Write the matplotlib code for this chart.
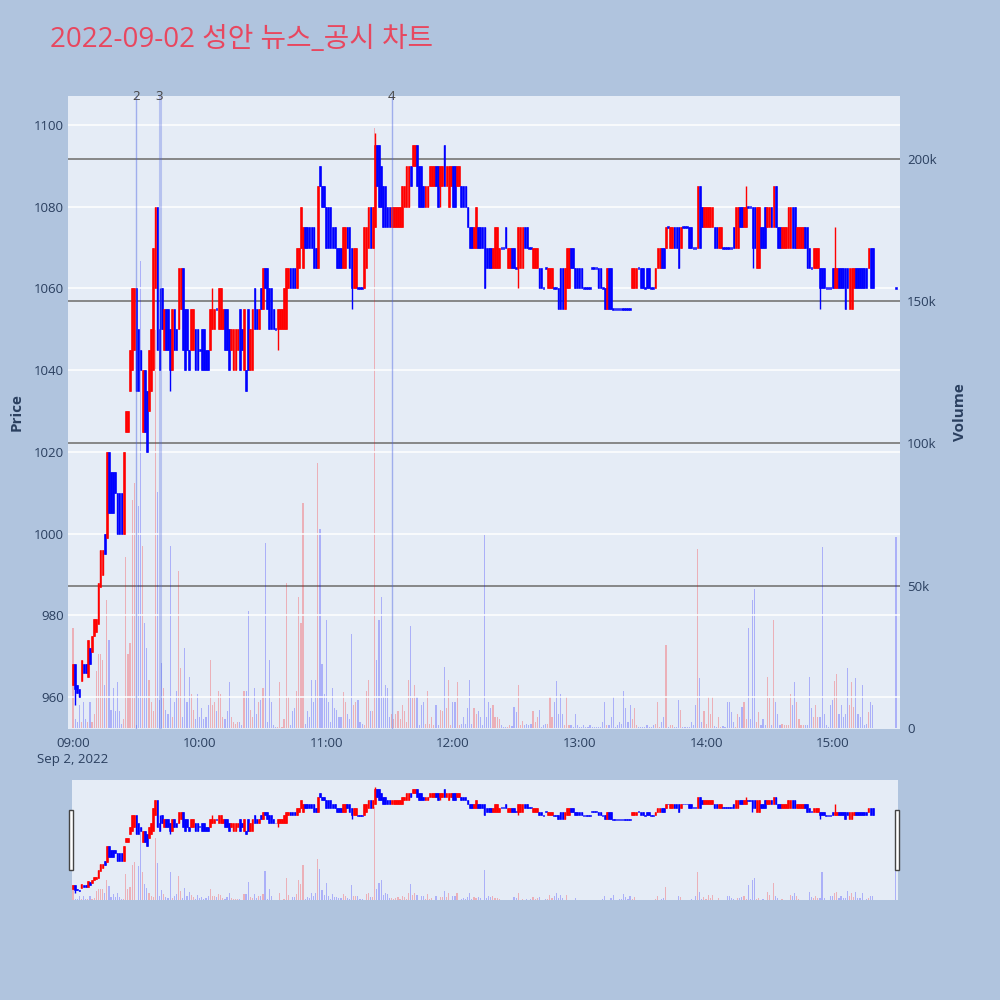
import numpy as np
import matplotlib.pyplot as plt
from matplotlib.patches import Rectangle
from matplotlib.ticker import FuncFormatter

plt.rcParams['font.family'] = ['Open Sans', 'Noto Sans CJK KR', 'DejaVu Sans']

title = '2022-09-02 성안 뉴스_공시 차트'

# minutes after 09:00 (the last one is the 15:30 closing auction)
minutes = list(range(380)) + [390]

opens = [
    963, 968, 963, 962, 964, 968, 968, 965, 972, 971,
    975, 976, 978, 987, 990, 1000, 999, 1020, 1015, 1015,
    1015, 1010, 1010, 1010, 1000, 1025, 1025, 1035, 1040, 1045,
    1060, 1050, 1045, 1025, 1040, 1035, 1030, 1035, 1040, 1060,
    1080, 1050, 1060, 1045, 1055, 1055, 1050, 1040, 1055, 1050,
    1050, 1055, 1065, 1055, 1055, 1045, 1045, 1045, 1050, 1050,
    1045, 1050, 1050, 1045, 1045, 1045, 1050, 1050, 1055, 1050,
    1050, 1050, 1055, 1055, 1050, 1045, 1040, 1040, 1045, 1055,
    1050, 1040, 1040, 1055, 1040, 1040, 1060, 1055, 1050, 1060,
    1055, 1065, 1065, 1060, 1060, 1055, 1050, 1050, 1050, 1050,
    1050, 1050, 1060, 1065, 1065, 1065, 1060, 1065, 1070, 1065,
    1075, 1075, 1075, 1075, 1075, 1070, 1065, 1090, 1085, 1085,
    1080, 1080, 1080, 1075, 1075, 1070, 1070, 1070, 1065, 1065,
    1075, 1075, 1070, 1060, 1060, 1060, 1060, 1060, 1060, 1065,
    1070, 1080, 1070, 1075, 1095, 1095, 1090, 1085, 1085, 1080,
    1080, 1075, 1075, 1075, 1075, 1075, 1075, 1080, 1080, 1080,
    1090, 1090, 1090, 1095, 1090, 1090, 1085, 1080, 1080, 1085,
    1085, 1085, 1090, 1090, 1085, 1085, 1095, 1085, 1080, 1085,
    1090, 1090, 1085, 1085, 1085, 1085, 1085, 1080, 1075, 1075,
    1070, 1070, 1075, 1075, 1075, 1075, 1070, 1070, 1070, 1065,
    1065, 1065, 1065, 1070, 1070, 1075, 1065, 1065, 1070, 1070,
    1065, 1065, 1065, 1065, 1075, 1075, 1070, 1070, 1065, 1065,
    1065, 1065, 1065, 1060, 1065, 1060, 1060, 1060, 1060, 1060,
    1060, 1065, 1065, 1055, 1060, 1060, 1070, 1070, 1065, 1065,
    1065, 1065, 1060, 1060, 1060, 1060, 1065, 1065, 1065, 1065,
    1065, 1060, 1060, 1055, 1065, 1065, 1055, 1055, 1055, 1055,
    1055, 1055, 1055, 1055, 1055, 1060, 1060, 1060, 1065, 1065,
    1065, 1060, 1065, 1065, 1060, 1060, 1060, 1065, 1065, 1070,
    1070, 1070, 1075, 1070, 1070, 1075, 1075, 1075, 1070, 1075,
    1075, 1075, 1075, 1075, 1070, 1070, 1070, 1085, 1080, 1075,
    1075, 1075, 1075, 1075, 1075, 1075, 1070, 1070, 1070, 1070,
    1070, 1070, 1070, 1075, 1070, 1070, 1080, 1080, 1075, 1075,
    1080, 1080, 1080, 1080, 1065, 1065, 1075, 1075, 1080, 1075,
    1075, 1080, 1075, 1085, 1075, 1075, 1070, 1070, 1070, 1070,
    1070, 1080, 1080, 1070, 1070, 1070, 1070, 1075, 1075, 1070,
    1065, 1065, 1065, 1065, 1065, 1065, 1065, 1060, 1060, 1060,
    1065, 1060, 1060, 1065, 1065, 1065, 1065, 1065, 1055, 1055,
    1060, 1065, 1065, 1065, 1065, 1065, 1065, 1065, 1070, 1070,
    1060,
]

closes = [
    968, 962, 961, 960, 969, 966, 966, 974, 968, 975,
    979, 979, 988, 996, 996, 995, 1020, 1005, 1005, 1005,
    1010, 1000, 1000, 1000, 1020, 1030, 1030, 1045, 1060, 1060,
    1035, 1035, 1040, 1040, 1025, 1020, 1045, 1050, 1070, 1080,
    1045, 1040, 1050, 1055, 1045, 1045, 1040, 1055, 1045, 1045,
    1065, 1065, 1045, 1040, 1045, 1040, 1055, 1055, 1040, 1040,
    1045, 1040, 1040, 1040, 1040, 1055, 1055, 1055, 1055, 1060,
    1060, 1055, 1045, 1045, 1040, 1050, 1050, 1050, 1050, 1040,
    1045, 1055, 1035, 1040, 1050, 1055, 1050, 1050, 1055, 1055,
    1065, 1060, 1055, 1050, 1050, 1050, 1050, 1055, 1055, 1055,
    1060, 1065, 1065, 1060, 1060, 1060, 1070, 1070, 1080, 1075,
    1070, 1070, 1070, 1070, 1065, 1065, 1085, 1085, 1080, 1080,
    1070, 1070, 1070, 1070, 1070, 1065, 1065, 1065, 1075, 1075,
    1070, 1065, 1060, 1070, 1070, 1060, 1060, 1060, 1075, 1075,
    1080, 1070, 1080, 1095, 1085, 1080, 1080, 1075, 1075, 1075,
    1075, 1080, 1080, 1080, 1080, 1080, 1085, 1085, 1090, 1090,
    1085, 1095, 1095, 1085, 1080, 1080, 1080, 1085, 1085, 1090,
    1090, 1090, 1085, 1080, 1090, 1090, 1085, 1090, 1090, 1090,
    1080, 1080, 1090, 1090, 1080, 1080, 1080, 1075, 1070, 1070,
    1075, 1080, 1070, 1070, 1070, 1060, 1065, 1065, 1065, 1070,
    1075, 1075, 1070, 1070, 1070, 1070, 1070, 1070, 1065, 1065,
    1065, 1075, 1075, 1075, 1070, 1070, 1070, 1070, 1070, 1070,
    1070, 1060, 1060, 1060, 1065, 1065, 1065, 1065, 1060, 1060,
    1055, 1055, 1055, 1065, 1070, 1070, 1065, 1065, 1060, 1060,
    1060, 1060, 1060, 1060, 1060, 1060, 1065, 1065, 1065, 1060,
    1060, 1060, 1055, 1065, 1055, 1055, 1055, 1055, 1055, 1055,
    1055, 1055, 1055, 1055, 1055, 1065, 1065, 1065, 1065, 1060,
    1060, 1060, 1060, 1060, 1060, 1060, 1065, 1070, 1070, 1065,
    1065, 1075, 1075, 1075, 1075, 1070, 1070, 1065, 1075, 1075,
    1075, 1075, 1070, 1070, 1070, 1070, 1085, 1070, 1075, 1080,
    1080, 1080, 1080, 1080, 1070, 1070, 1075, 1075, 1070, 1070,
    1070, 1070, 1070, 1070, 1080, 1080, 1075, 1075, 1080, 1080,
    1080, 1080, 1070, 1070, 1080, 1080, 1070, 1070, 1070, 1080,
    1080, 1075, 1085, 1075, 1070, 1070, 1075, 1075, 1075, 1080,
    1080, 1070, 1070, 1075, 1075, 1075, 1075, 1070, 1065, 1065,
    1065, 1070, 1070, 1070, 1060, 1060, 1060, 1060, 1060, 1060,
    1060, 1065, 1065, 1060, 1060, 1060, 1055, 1060, 1065, 1065,
    1065, 1060, 1060, 1060, 1060, 1060, 1060, 1070, 1060, 1060,
    1060,
]

# shadows that reach beyond the candle body
wick_high = {41: 1060, 42: 1060, 66: 1060, 117: 1090, 143: 1098,
             319: 1085, 361: 1075}
wick_low = {1: 958, 35: 1020, 46: 1035, 82: 1035, 97: 1045, 132: 1055,
            174: 1080, 211: 1060, 322: 1065, 354: 1055}

# traded volume, thousands of shares
volumes_k = [
    35, 3, 2, 8, 2, 9, 3, 2, 9, 2,
    5, 20, 26, 26, 24, 15, 45, 31, 6.5, 14,
    6, 16, 6, 1.5, 3, 60, 26, 30, 80, 86,
    1, 78, 164, 64, 37, 28, 17, 9, 6, 140,
    83, 10, 23, 14, 6.5, 5, 64, 4, 9, 13,
    55, 21, 4, 28, 9, 18, 12, 6.5, 3, 12,
    4, 7, 3, 4, 8, 24, 8, 9, 6, 13,
    12, 4, 3, 6, 16, 4, 2, 1.5, 2, 2,
    1, 13, 13, 41, 6.5, 4, 14, 5, 9, 10,
    14, 65, 2, 24, 9, 1, 0.5, 0.5, 16, 0.5,
    3, 51, 11, 1, 6, 7, 13, 46, 37, 79,
    1.5, 6, 4, 17, 9, 17, 93, 70, 22.5, 12,
    38, 9, 2, 14, 7, 6.5, 4, 4, 12.5, 9,
    5, 3, 33, 8, 9, 10, 2, 1.5, 1, 13,
    17, 6, 6, 211, 24, 38, 46, 11, 15, 14,
    4, 5, 3, 5, 6, 3, 8, 6, 2, 17,
    36, 10.5, 15, 11, 1, 8, 9, 1.5, 13, 1.5,
    4, 1, 8, 1, 6.5, 6, 21.5, 7, 17, 1,
    9, 9, 16, 1, 1.5, 4, 1.5, 7, 17, 1.5,
    7, 5, 6, 4, 1, 68, 4, 9, 7, 8,
    4, 4, 3, 1, 0.5, 0.3, 0.5, 1, 0.8, 7.5,
    5.5, 15, 1, 2.5, 1, 1.5, 1, 1.5, 6, 2,
    4, 6.5, 0.5, 1, 1.5, 1.5, 11, 4, 9, 16.5,
    5, 12, 5, 1, 11, 1, 1, 0.5, 5, 1,
    0.5, 0.5, 1, 0.3, 0.3, 1, 0.5, 0.5, 0.3, 0.3,
    0.3, 2, 9, 1, 1, 4, 11, 0.3, 1, 2,
    1.5, 13, 7, 2, 8, 3, 7, 1, 0.5, 0.3,
    0.5, 0.3, 1, 0.3, 0.3, 1, 1.5, 9, 0.5, 2,
    4, 29, 0.3, 1, 1, 0.5, 0.3, 10, 6.5, 0.3,
    0.3, 0.5, 0.3, 2, 1, 8, 63, 17.6, 2, 6,
    1.5, 11, 5, 11, 0.8, 0.3, 4, 0.3, 0.8, 0.3,
    9, 9, 5.5, 2, 0.3, 5, 4, 7.5, 9, 3,
    35, 3, 45, 49, 2, 5.5, 1, 3, 1, 18,
    10.5, 1, 38, 9, 5, 1, 1.5, 1, 1, 1,
    12, 8, 16, 9, 3, 1, 1, 1, 1, 18,
    7, 4, 8, 4, 4, 63.5, 5, 1, 0.5, 8,
    10, 16.5, 19, 5, 8, 4, 5, 21, 8, 16,
    7.5, 17.5, 5, 4, 15, 1, 1.5, 5.5, 9, 8,
    67,
]

news_times = ['09:30', '09:41', '11:31']
news_labels = ['2', '3', '4']

tick_times = ['09:00', '10:00', '11:00', '12:00', '13:00', '14:00', '15:00']
date_label = 'Sep 2, 2022'

price_ticks = [960, 980, 1000, 1020, 1040, 1060, 1080, 1100]
volume_ticks = [0, 50000, 100000, 150000, 200000]

BG = '#B0C4DE'
PLOT_BG = '#E5ECF6'
TEXT = '#2a3f5f'


def to_min(t):
    h, m = t.split(':')
    return (int(h) - 9) * 60 + int(m)


x = np.array(minutes, dtype=float)
o = np.array(opens, dtype=float)
c = np.array(closes, dtype=float)
vol = np.array(volumes_k) * 1000
colors = np.where(c > o, '#ff0000', '#0000ff')
body_lo = np.minimum(o, c)
body_hi = np.maximum(o, c)
hi = np.array([max(h, wick_high.get(m, h)) for m, h in zip(minutes, body_hi)])
lo = np.array([min(l, wick_low.get(m, l)) for m, l in zip(minutes, body_lo)])


def draw(ax_p, ax_v, doji_h, body_w, vol_w):
    ax_v.bar(x, vol, width=vol_w, color=colors, alpha=0.25, linewidth=0, zorder=2)
    ax_p.vlines(x, lo, hi, colors=colors, linewidth=1, zorder=3)
    h = np.maximum(body_hi - body_lo, doji_h)
    ax_p.bar(x, h, bottom=body_lo - (h - (body_hi - body_lo)) / 2, width=body_w,
             color=colors, edgecolor=colors, linewidth=0.4, zorder=4)


fig = plt.figure(figsize=(10, 10), dpi=100, facecolor=BG)

# main chart: volume axis behind, price axis on top
ax_v = fig.add_axes([0.068, 0.271, 0.832, 0.633])
ax_v.set_facecolor(PLOT_BG)
ax_p = ax_v.twinx()
ax_p.set_zorder(ax_v.get_zorder() + 1)
ax_p.patch.set_visible(False)

draw(ax_p, ax_v, 0.5, 0.8, 0.55)

ax_v.set_xlim(-2.4, 391.9)
ax_p.set_ylim(952.2, 1107.1)
ax_v.set_ylim(-350, 222100)

ax_v.yaxis.tick_right()
ax_v.set_yticks(volume_ticks)
ax_v.yaxis.set_major_formatter(FuncFormatter(lambda v, p: '0' if v == 0 else f'{v / 1000:.0f}k'))
for v in volume_ticks[1:]:
    ax_v.axhline(v, color='#7f7f7f', linewidth=1.3, zorder=0.5)

ax_p.yaxis.tick_left()
ax_p.set_yticks(price_ticks)
ax_p.grid(axis='y', color='white', linewidth=1.1, zorder=1)
ax_p.set_axisbelow(True)

tick_pos = [to_min(t) for t in tick_times]
tick_lab = [tick_times[0] + '\n' + date_label] + tick_times[1:]
ax_v.set_xticks(tick_pos)
ax_v.set_xticklabels(tick_lab, linespacing=1.25)

for a in (ax_v, ax_p):
    for s in a.spines.values():
        s.set_visible(False)
    a.tick_params(length=0, labelsize=9.5, colors=TEXT)
ax_v.tick_params(axis='y', pad=5)
ax_p.tick_params(axis='y', pad=3)
ax_v.tick_params(axis='x', pad=6)

ax_p.set_ylabel('Price', fontsize=11, fontweight='bold', color=TEXT)
ax_p.yaxis.set_label_coords(-0.0697, 0.5)
ax_v.set_ylabel('Volume', fontsize=11, fontweight='bold', color=TEXT)
ax_v.yaxis.set_label_position('right')
ax_v.yaxis.set_label_coords(1.0637, 0.5)

# news / disclosure markers
for t, lab in zip(news_times, news_labels):
    m = to_min(t)
    lw, al = (2.2, 0.3) if lab == '3' else (1, 0.45)
    ax_p.axvline(m, color='#4a64e0', linewidth=lw, alpha=al, zorder=5)
    ax_p.text(m, 1.0, lab, transform=ax_p.get_xaxis_transform(), ha='center',
              va='center', fontsize=9.5, color='#444444', zorder=6)

fig.text(0.05, 0.96, title, fontsize=20, color='#e8475f', va='center',
         family=['Open Sans', 'Noto Sans CJK KR', 'DejaVu Sans'])

# range slider
sv = fig.add_axes([0.072, 0.1, 0.826, 0.12])
sv.set_facecolor(PLOT_BG)
sp = sv.twinx()
sp.set_zorder(sv.get_zorder() + 1)
sp.patch.set_visible(False)
draw(sp, sv, 1.0, 0.8, 0.55)
sv.set_xlim(-0.5, 391)
sp.set_ylim(948.4, 1106.8)
sv.set_ylim(0, 272000)
for a in (sv, sp):
    a.set_xticks([])
    a.set_yticks([])
    for s in a.spines.values():
        s.set_visible(False)

for left in (0.069, 0.895):
    fig.patches.append(Rectangle((left, 0.13), 0.004, 0.06, transform=fig.transFigure,
                                 facecolor='white', edgecolor='#444444', linewidth=1))

fig.savefig('out.png', dpi=100, facecolor=BG)
